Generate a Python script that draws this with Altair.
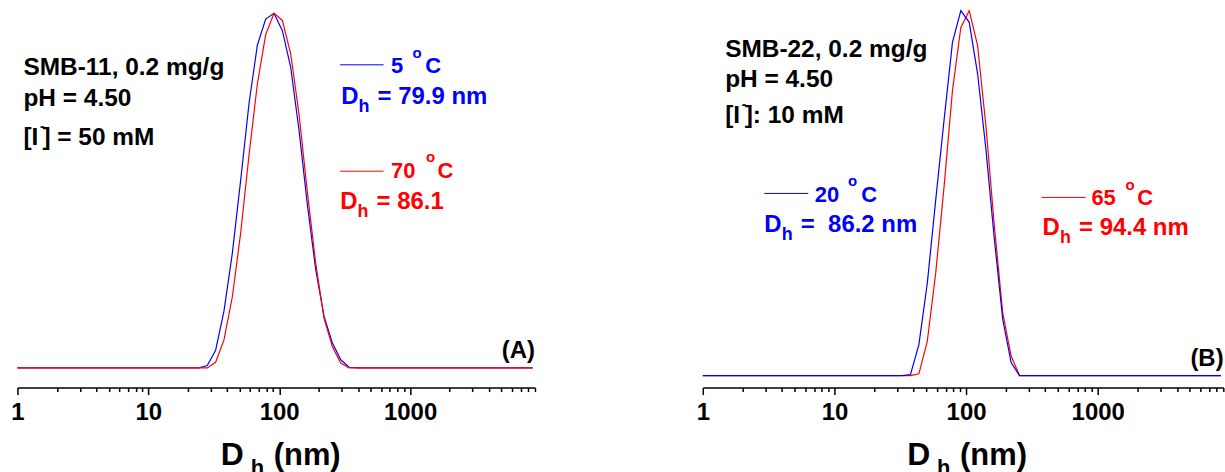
import altair as alt
import pandas as pd

FONT = "Liberation Sans"
BLUE = "#0000FF"
RED = "#FF0000"

# DLS size classes (nm)
sizes_nm = [0.9649, 1.117, 1.294, 1.499, 1.736, 2.01, 2.328, 2.696, 3.122, 3.615,
            4.187, 4.849, 5.615, 6.503, 7.531, 8.721, 10.1, 11.7, 13.54, 15.69,
            18.17, 21.04, 24.36, 28.21, 32.67, 37.84, 43.82, 50.75, 58.77, 68.06,
            78.82, 91.28, 105.7, 122.4, 141.8, 164.2, 190.1, 220.2, 255.0, 295.3,
            342.0, 396.1, 458.7, 531.2, 615.1, 712.4, 825.0, 955.4, 1106, 1281,
            1484, 1718, 1990, 2305, 2669, 3091, 3580, 4145, 4801, 5560,
            6439, 7456, 8635]

# Normalised intensity distributions (peak = 100)
smb11_5C = [0, 0, 0, 0, 0, 0, 0, 0, 0, 0,
            0, 0, 0, 0, 0, 0, 0, 0, 0, 0,
            0, 0, 0, 0.66, 5.0, 16.0, 32.3, 52.9, 74.5, 91.0,
            98.4, 100, 95.1, 84.8, 67.0, 46.0, 27.7, 14.5, 7.0, 2.3,
            0.2, 0, 0, 0, 0, 0, 0, 0, 0, 0,
            0, 0, 0, 0, 0, 0, 0, 0, 0, 0,
            0, 0, 0]
smb11_70C = [0, 0, 0, 0, 0, 0, 0, 0, 0, 0,
             0, 0, 0, 0, 0, 0, 0, 0, 0, 0,
             0, 0, 0, 0, 1.6, 7.9, 20.0, 38.0, 60.0, 80.0,
             94.0, 100, 98.0, 88.6, 71.5, 49.5, 29.5, 14.0, 6.0, 1.4,
             0, 0, 0, 0, 0, 0, 0, 0, 0, 0,
             0, 0, 0, 0, 0, 0, 0, 0, 0, 0,
             0, 0, 0]
smb22_20C = [0, 0, 0, 0, 0, 0, 0, 0, 0, 0,
             0, 0, 0, 0, 0, 0, 0, 0, 0, 0,
             0, 0, 0, 0, 0, 0.3, 8.5, 25.3, 48.0, 70.0,
             91.3, 100, 96.8, 82.7, 61.7, 37.2, 15.3, 3.5, 0, 0,
             0, 0, 0, 0, 0, 0, 0, 0, 0, 0,
             0, 0, 0, 0, 0, 0, 0, 0, 0, 0,
             0, 0, 0]
smb22_65C = [0, 0, 0, 0, 0, 0, 0, 0, 0, 0,
             0, 0, 0, 0, 0, 0, 0, 0, 0, 0,
             0, 0, 0, 0, 0, 0, 0.5, 9.4, 28.0, 51.7,
             78.1, 95.4, 100, 90.4, 68.1, 40.8, 17.1, 5.3, 0, 0,
             0, 0, 0, 0, 0, 0, 0, 0, 0, 0,
             0, 0, 0, 0, 0, 0, 0, 0, 0, 0,
             0, 0, 0]

major_ticks = [1, 10, 100, 1000]
minor_ticks = [2, 3, 4, 5, 6, 7, 8, 9,
               20, 30, 40, 50, 60, 70, 80, 90,
               200, 300, 400, 500, 600, 700, 800, 900,
               2000, 3000, 4000, 5000, 6000, 7000, 8000, 9000]

X_DOMAIN = [1, 9000]
PLOT_H = 388
NOTE = 24.5   # black annotation size
VAL = 24      # coloured value size
TEMP = 22     # coloured temperature size


def major_axis():
    return alt.Axis(values=major_ticks, format="d", orient="bottom", title=None, grid=False,
                    domainColor="black", domainWidth=1.5, tickColor="black", tickWidth=1.5,
                    tickSize=7, labelFont=FONT, labelFontSize=24, labelFontWeight="bold",
                    labelColor="black", labelPadding=6, labelFlush=False, labelOverlap=False)


def minor_axis():
    return alt.Axis(values=minor_ticks, orient="bottom", title=None, grid=False, labels=False,
                    domain=False, tickColor="black", tickWidth=1.5, tickSize=4)


def curve(values, color, axis, ydom):
    df = pd.DataFrame({"size": sizes_nm, "intensity": values})
    return alt.Chart(df).mark_line(color=color, strokeWidth=1.2, clip=True).encode(
        x=alt.X("size:Q", scale=alt.Scale(type="log", domain=X_DOMAIN, nice=False), axis=axis),
        y=alt.Y("intensity:Q", scale=alt.Scale(domain=ydom, nice=False, zero=False), axis=None),
    )


def text(s, x, y, size=NOTE, color="black"):
    return alt.Chart(alt.Data(values=[{}])).mark_text(
        text=s, font=FONT, fontSize=size, fontWeight="bold", color=color,
        align="left", baseline="alphabetic",
    ).encode(x=alt.value(x), y=alt.value(y))


def swatch(x1, x2, y, color):
    return alt.Chart(alt.Data(values=[{}])).mark_rule(color=color, strokeWidth=1).encode(
        x=alt.value(x1), x2=alt.value(x2), y=alt.value(y))


def temp_label(num, x, y, color, o_dx, c_dx):
    return [text(num, x, y, TEMP, color), text("o", x + o_dx, y - 15.5, 15, color),
            text("C", x + c_dx, y, TEMP, color)]


def dh_label(value, x, y, color):
    return [text("D", x, y, VAL, color), text("h", x + 17.5, y + 8, 18, color),
            text(value, x + 36.6, y, VAL, color)]


def axis_title(x):
    # D_h (nm) with a lowered, smaller "h"
    return [text("D", x, 466, 32), text("h", x + 30, 476, 22), text("(nm)", x + 53, 466, 31)]


# Panel A: SMB-11
ydom_a = [-5.54, 103.57]
panel_a = alt.layer(
    curve(smb11_5C, BLUE, major_axis(), ydom_a),
    curve(smb11_70C, RED, minor_axis(), ydom_a),
    text("SMB-11, 0.2 mg/g", 6, 75),
    text("pH = 4.50", 6, 106),
    text("[I", 6, 145), text("-", 22.5, 131, 14), text("] = 50 mM", 25, 145),
    swatch(323.6, 367.2, 64.3, BLUE),
    *temp_label("5", 374.6, 72.5, BLUE, 21.6, 34.3),
    *dh_label("= 79.9 nm", 324.6, 103.3, BLUE),
    swatch(323.6, 367.2, 171, RED),
    *temp_label("70", 374.6, 177.5, RED, 35, 46.6),
    *dh_label("= 86.1", 323.6, 209, RED),
    text("(A)", 485.6, 358, 24),
    *axis_title(204),
).resolve_axis(x="independent").properties(width=519, height=PLOT_H)

# Panel B: SMB-22
ydom_b = [-3.28, 102.73]
panel_b = alt.layer(
    curve(smb22_65C, RED, minor_axis(), ydom_b),
    curve(smb22_20C, BLUE, major_axis(), ydom_b),
    text("SMB-22, 0.2 mg/g", 22.4, 56),
    text("pH = 4.50", 22.4, 87),
    text("[I", 22.4, 123), text("-", 39, 109, 14), text("]: 10 mM", 42, 123),
    swatch(61.7, 105.7, 193.3, BLUE),
    *temp_label("20", 112.4, 201.7, BLUE, 33.3, 46.6),
    *dh_label("=\u00a0 86.2 nm", 61.7, 231.7, BLUE),
    swatch(339.7, 384, 197.3, RED),
    *temp_label("65", 389.7, 205, RED, 34.3, 46),
    *dh_label("= 94.4 nm", 340.7, 235, RED),
    text("(B)", 489, 366, 24),
    *axis_title(205),
).resolve_axis(x="independent").properties(width=522, height=PLOT_H)

chart = alt.hconcat(panel_a, panel_b, spacing=168.3, bounds="flush").properties(
    padding={"left": 10.5, "top": 0, "right": 0, "bottom": 0},
    background="white",
).configure_view(stroke=None)

chart.save("out.html", embed_options={"renderer": "svg", "actions": False})
